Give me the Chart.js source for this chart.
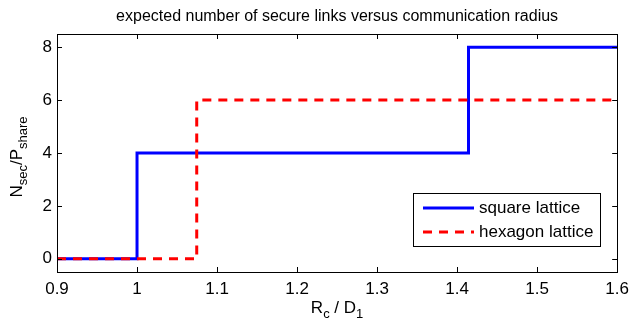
<!DOCTYPE html>
<html>
<head>
<meta charset="utf-8">
<script src="https://cdn.jsdelivr.net/npm/chart.js@4"></script>
<style>
  html, body { margin: 0; padding: 0; background: #fff; }
  #wrap { width: 636px; height: 325px; }
</style>
</head>
<body>
<div id="wrap"><canvas id="grafico" width="636" height="325"></canvas></div>
<script>
// =====================
// Datos
// =====================
const squareX = [0.9, 1, 1.4142, 1.6];
const squareY = [0, 4, 8, 8];
const hexX = [0.9, 1.0746, 1.6];
const hexY = [0, 6, 6];
const xTicks = [0.9, 1, 1.1, 1.2, 1.3, 1.4, 1.5, 1.6];
const xTickLabels = ["0.9", "1", "1.1", "1.2", "1.3", "1.4", "1.5", "1.6"];
const yTicks = [0, 2, 4, 6, 8];
const yTickLabels = ["0", "2", "4", "6", "8"];
const seriesLabels = ["square lattice", "hexagon lattice"];
const titleText = "expected number of secure links versus communication radius";

const FONT = "'Liberation Sans', Arial, Helvetica, sans-serif";
const FS = 17;

// texto con subíndices: partes [texto, esSub]
function drawParts(ctx, parts, cx, cy, size) {
  const subSize = Math.round(size * 0.75);
  let total = 0;
  const widths = parts.map(([t, sub]) => {
    ctx.font = `${sub ? subSize : size}px ${FONT}`;
    const w = ctx.measureText(t).width;
    total += w;
    return w;
  });
  let x = cx - total / 2;
  ctx.textBaseline = "alphabetic";
  ctx.textAlign = "left";
  parts.forEach(([t, sub], i) => {
    ctx.font = `${sub ? subSize : size}px ${FONT}`;
    ctx.fillText(t, x, cy + (sub ? 5 : 0));
    x += widths[i];
  });
}

// =====================
// Marco, ticks, títulos y leyenda
// =====================
const marcoPlugin = {
  id: "marco",
  afterDatasetsDraw(chart) {
    const { ctx, chartArea: a, scales: { x, y } } = chart;
    ctx.save();
    ctx.strokeStyle = "#000";
    ctx.lineWidth = 1;
    ctx.strokeRect(Math.round(a.left) + 0.5, Math.round(a.top) + 0.5,
      Math.round(a.right - a.left), Math.round(a.bottom - a.top));
    const tl = 5;
    ctx.beginPath();
    xTicks.forEach(v => {
      const px = Math.round(x.getPixelForValue(v)) + 0.5;
      ctx.moveTo(px, a.bottom); ctx.lineTo(px, a.bottom - tl);
      ctx.moveTo(px, a.top); ctx.lineTo(px, a.top + tl);
    });
    yTicks.forEach(v => {
      const py = Math.round(y.getPixelForValue(v)) + 0.5;
      ctx.moveTo(a.left, py); ctx.lineTo(a.left + tl, py);
      ctx.moveTo(a.right, py); ctx.lineTo(a.right - tl, py);
    });
    ctx.stroke();
    ctx.restore();
  },
  afterDraw(chart) {
    const { ctx, chartArea: a } = chart;
    const cx = (a.left + a.right) / 2;
    ctx.save();
    ctx.fillStyle = "#000";

    // título
    ctx.font = `16px ${FONT}`;
    ctx.textAlign = "center";
    ctx.textBaseline = "alphabetic";
    ctx.fillText(titleText, cx, 21);

    // etiqueta eje x
    drawParts(ctx, [["R", false], ["c", true], [" / D", false], ["1", true]], cx, 313, FS);

    // etiqueta eje y
    ctx.save();
    ctx.translate(22, (a.top + a.bottom) / 2 + 4);
    ctx.rotate(-Math.PI / 2);
    drawParts(ctx, [["N", false], ["sec", true], ["/P", false], ["share", true]], 0, 0, FS);
    ctx.restore();

    // leyenda
    ctx.font = `${FS}px ${FONT}`;
    const textW = Math.max(...chart.data.datasets.map(ds => ctx.measureText(ds.label).width));
    const bx = 413, by = 193, bh = 53;
    const bw = 479 + textW + 7 - bx;
    ctx.fillStyle = "#fff";
    ctx.fillRect(bx, by, bw, bh);
    ctx.strokeStyle = "#000";
    ctx.lineWidth = 1;
    ctx.strokeRect(bx + 0.5, by + 0.5, Math.round(bw), bh);
    chart.data.datasets.forEach((ds, i) => {
      const ly = by + 15 + i * 24;
      ctx.beginPath();
      ctx.strokeStyle = ds.borderColor;
      ctx.lineWidth = ds.borderWidth;
      ctx.setLineDash(ds.borderDash || []);
      ctx.moveTo(423, ly);
      ctx.lineTo(474, ly);
      ctx.stroke();
      ctx.setLineDash([]);
      ctx.fillStyle = "#000";
      ctx.font = `${FS}px ${FONT}`;
      ctx.textAlign = "left";
      ctx.textBaseline = "middle";
      ctx.fillText(ds.label, 479, ly);
    });
    ctx.restore();
  }
};

// =====================
// Gráfico
// =====================
const ctxGraf = document.getElementById("grafico");
new Chart(ctxGraf, {
  type: "line",
  data: {
    datasets: [
      {
        label: seriesLabels[0],
        data: squareX.map((v, i) => ({ x: v, y: squareY[i] })),
        borderColor: "#0000ff",
        borderWidth: 3,
        stepped: "before",
        pointRadius: 0,
        fill: false,
        order: 1
      },
      {
        label: seriesLabels[1],
        data: hexX.map((v, i) => ({ x: v, y: hexY[i] })),
        borderColor: "#ff0000",
        borderWidth: 3,
        borderDash: [9, 7],
        stepped: "before",
        pointRadius: 0,
        fill: false,
        order: 0
      }
    ]
  },
  options: {
    responsive: false,
    animation: false,
    devicePixelRatio: 1,
    layout: { padding: { top: 34, right: 13, left: 0, bottom: 0 } },
    plugins: {
      legend: { display: false },
      title: { display: false },
      tooltip: { enabled: false }
    },
    scales: {
      x: {
        type: "linear",
        min: 0.9,
        max: 1.6,
        afterBuildTicks: s => { s.ticks = xTicks.map(v => ({ value: v })); },
        afterFit: s => { s.height = 53; },
        ticks: {
          callback: (v, i) => xTickLabels[i],
          font: { family: FONT, size: FS },
          color: "#000",
          padding: 7,
          maxRotation: 0,
          autoSkip: false
        },
        grid: { drawOnChartArea: false, drawTicks: false },
        border: { display: false }
      },
      y: {
        type: "linear",
        min: -0.5,
        max: 8.5,
        afterBuildTicks: s => { s.ticks = yTicks.map(v => ({ value: v })); },
        afterFit: s => { s.width = 57; },
        ticks: {
          callback: (v, i) => yTickLabels[i],
          font: { family: FONT, size: FS },
          color: "#000",
          padding: 5,
          autoSkip: false
        },
        grid: { drawOnChartArea: false, drawTicks: false },
        border: { display: false }
      }
    }
  },
  plugins: [marcoPlugin]
});
</script>
</body>
</html>
